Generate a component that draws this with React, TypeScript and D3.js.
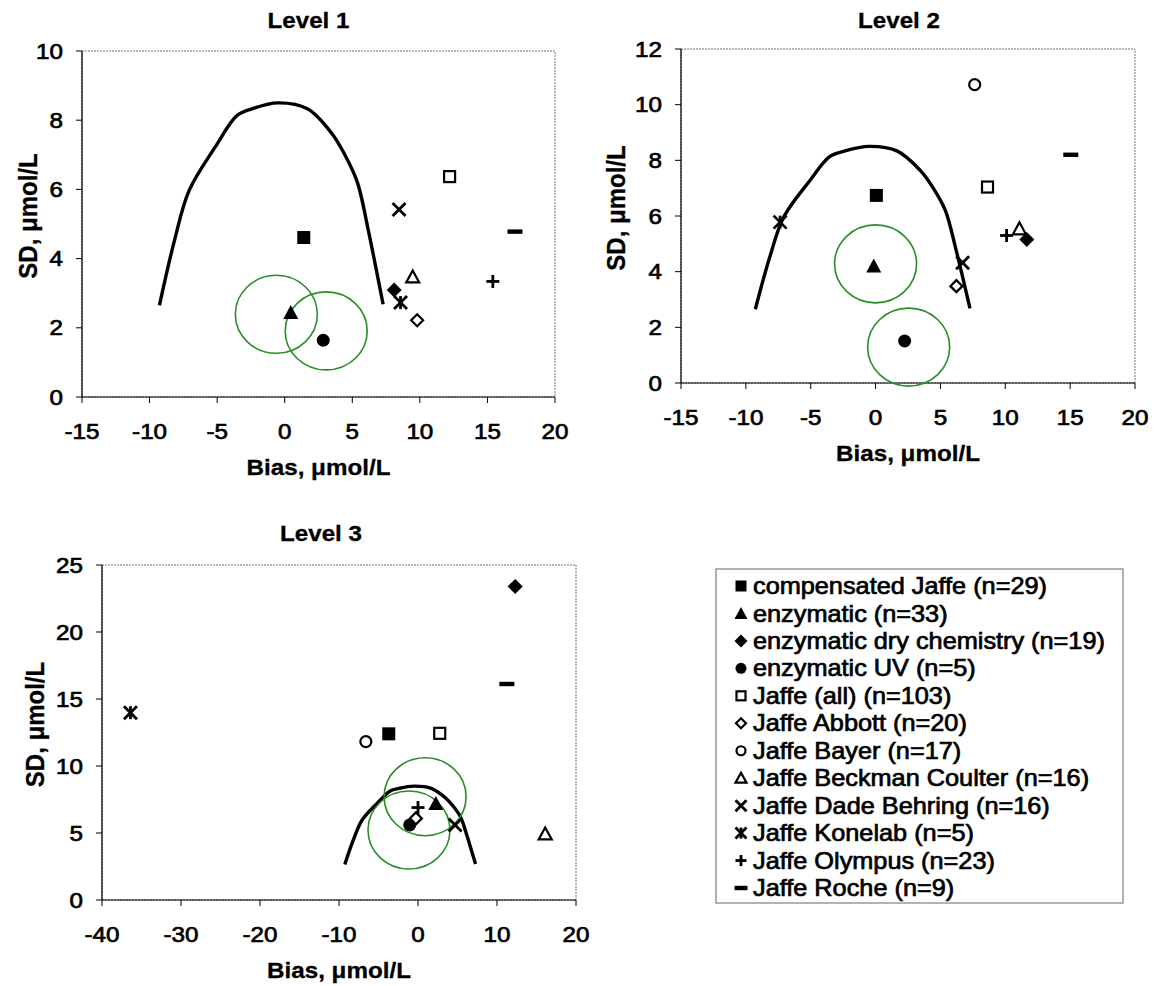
import React from "react";
import * as d3 from "d3";

// ---------- data ----------
const methodLabels = [
  "compensated Jaffe (n=29)",
  "enzymatic (n=33)",
  "enzymatic dry chemistry (n=19)",
  "enzymatic UV (n=5)",
  "Jaffe (all) (n=103)",
  "Jaffe Abbott (n=20)",
  "Jaffe Bayer (n=17)",
  "Jaffe Beckman Coulter (n=16)",
  "Jaffe Dade Behring (n=16)",
  "Jaffe Konelab (n=5)",
  "Jaffe Olympus (n=23)",
  "Jaffe Roche (n=9)",
];
const methodSymbols = [
  "squareFilled", "triangleFilled", "diamondFilled", "circleFilled",
  "squareOpen", "diamondOpen", "circleOpen", "triangleOpen",
  "cross", "asterisk", "plus", "dash",
];

const level1Bias = [1.41, 0.45, 8.1, 2.85, 12.2, 9.8, null, 9.47, 8.46, 8.57, 15.4, 17.04];
const level1SD = [4.61, 2.44, 3.09, 1.64, 6.37, 2.22, null, 3.47, 5.42, 2.73, 3.34, 4.78];

const level2Bias = [0.06, -0.14, 11.66, 2.24, 8.63, 6.23, 7.64, 11.09, 6.71, -7.36, 10.1, 15.05];
const level2SD = [6.74, 4.2, 5.16, 1.51, 7.04, 3.48, 10.72, 5.54, 4.32, 5.78, 5.3, 8.2];

const level3Bias = [-3.7, 2.26, 12.3, -1.05, 2.75, -0.27, -6.6, 16.1, 4.7, -36.4, 0.0, 11.25];
const level3SD = [12.4, 7.2, 23.4, 5.6, 12.44, 6.09, 11.82, 4.93, 5.6, 13.98, 6.9, 16.12];

// acceptance limit curve (bias, SD)
const limitBias = [-9.27, -8.16, -7.07, -5.15, -3.52, -2.42, -0.51, 1.68, 3.46, 4.41, 5.37, 6.19, 6.74, 7.28];
const limitSD = [2.65, 4.52, 5.97, 7.22, 8.14, 8.33, 8.5, 8.33, 7.63, 7.03, 6.21, 4.81, 3.75, 2.68];

// green circle centres (bias, SD)
const level1CircleBias = [-0.62, 3.07];
const level1CircleSD = [2.39, 1.91];
const level2CircleBias = [0.0, 2.55];
const level2CircleSD = [4.28, 1.29];
const level3CircleBias = [0.9, -1.14];
const level3CircleSD = [7.71, 5.22];

const level1XTicks = [-15, -10, -5, 0, 5, 10, 15, 20];
const level1YTicks = [0, 2, 4, 6, 8, 10];
const level2XTicks = [-15, -10, -5, 0, 5, 10, 15, 20];
const level2YTicks = [0, 2, 4, 6, 8, 10, 12];
const level3XTicks = [-40, -30, -20, -10, 0, 10, 20];
const level3YTicks = [0, 5, 10, 15, 20, 25];

// ---------- layout ----------
const SX = 1.1; // horizontal stretch of the scanned text
const FONT = "'Liberation Sans', Arial, sans-serif";
const GREEN = "#2a8c2a";

const panels = [
  {
    title: "Level 1", rect: [82, 51, 555, 397], xDom: [-15, 20], yDom: [0, 10],
    xTicks: level1XTicks, yTicks: level1YTicks, bias: level1Bias, sd: level1SD,
    cBias: level1CircleBias, cSD: level1CircleSD, titleY: 20, ylabX: 28, titleDx: -10,
  },
  {
    title: "Level 2", rect: [681, 49, 1135, 383], xDom: [-15, 20], yDom: [0, 12],
    xTicks: level2XTicks, yTicks: level2YTicks, bias: level2Bias, sd: level2SD,
    cBias: level2CircleBias, cSD: level2CircleSD, titleY: 20, ylabX: 616, titleDx: -9,
  },
  {
    title: "Level 3", rect: [102, 565, 576, 900], xDom: [-40, 20], yDom: [0, 25],
    xTicks: level3XTicks, yTicks: level3YTicks, bias: level3Bias, sd: level3SD,
    cBias: level3CircleBias, cSD: level3CircleSD, titleY: 533, ylabX: 35, titleDx: -18,
  },
];

function T(props: any) {
  const { x, y, size, weight, anchor, rot, children, thick } = props;
  return (
    <text
      transform={`translate(${x},${y}) scale(${SX},1)${rot ? " rotate(-90)" : ""}`}
      fontFamily={FONT}
      fontSize={size}
      fontWeight={weight || "normal"}
      textAnchor={anchor || "middle"}
      dominantBaseline="central"
      fill="#000"
      stroke="#000"
      strokeWidth={thick == null ? 0.7 : thick}
    >
      {children}
    </text>
  );
}

function Marker({ type, x, y, s }: { type: string; x: number; y: number; s: number }) {
  const h = s / 2;
  switch (type) {
    case "squareFilled":
      return <rect x={x - h} y={y - h} width={s} height={s} fill="#000" />;
    case "squareOpen":
      return <rect x={x - h + 1} y={y - h + 1} width={s - 2} height={s - 2} fill="#fff" stroke="#000" strokeWidth={2.2} />;
    case "triangleFilled":
      return <path d={`M${x},${y - h - 1}L${x + h + 1},${y + h}L${x - h - 1},${y + h}Z`} fill="#000" />;
    case "triangleOpen":
      return <path d={`M${x},${y - h}L${x + h},${y + h - 1}L${x - h},${y + h - 1}Z`} fill="#fff" stroke="#000" strokeWidth={2.2} strokeLinejoin="miter" />;
    case "diamondFilled":
      return <path d={`M${x},${y - h - 1}L${x + h + 1},${y}L${x},${y + h + 1}L${x - h - 1},${y}Z`} fill="#000" />;
    case "diamondOpen":
      return <path d={`M${x},${y - h + 0.5}L${x + h - 0.5},${y}L${x},${y + h - 0.5}L${x - h + 0.5},${y}Z`} fill="#fff" stroke="#000" strokeWidth={2.2} />;
    case "circleFilled":
      return <circle cx={x} cy={y} r={h} fill="#000" />;
    case "circleOpen":
      return <circle cx={x} cy={y} r={h - 1} fill="#fff" stroke="#000" strokeWidth={2.2} />;
    case "cross":
      return (
        <g stroke="#000" strokeWidth={2.8}>
          <line x1={x - h} y1={y - h} x2={x + h} y2={y + h} />
          <line x1={x - h} y1={y + h} x2={x + h} y2={y - h} />
        </g>
      );
    case "asterisk":
      return (
        <g stroke="#000" strokeWidth={2.8}>
          <line x1={x - h} y1={y - h} x2={x + h} y2={y + h} />
          <line x1={x - h} y1={y + h} x2={x + h} y2={y - h} />
          <line x1={x} y1={y - h} x2={x} y2={y + h} />
        </g>
      );
    case "plus":
      return (
        <g stroke="#000" strokeWidth={2.8}>
          <line x1={x - h} y1={y} x2={x + h} y2={y} />
          <line x1={x} y1={y - h} x2={x} y2={y + h} />
        </g>
      );
    case "dash":
      return <rect x={x - h - 1} y={y - 2.2} width={s + 2} height={4.4} fill="#000" />;
    default:
      return null;
  }
}

function Panel({ p }: { p: any }) {
  const [x0, y0, x1, y1] = p.rect;
  const xs = d3.scaleLinear().domain(p.xDom).range([x0, x1]);
  const ys = d3.scaleLinear().domain(p.yDom).range([y1, y0]);
  const curvePts: [number, number][] = limitBias.map((b, i) => [b, limitSD[i]]);
  const line = d3
    .line<[number, number]>()
    .x((d) => xs(d[0]))
    .y((d) => ys(d[1]))
    .curve(d3.curveCatmullRom.alpha(0.5));
  const cx = (x0 + x1) / 2;
  const cy = (y0 + y1) / 2;
  return (
    <g>
      {/* plot border */}
      <rect x={x0} y={y0} width={x1 - x0} height={y1 - y0} fill="none" stroke="#777" strokeWidth={1} strokeDasharray="2,1" />
      <line x1={x0} y1={y0} x2={x0} y2={y1} stroke="#000" strokeWidth={1.2} />
      <line x1={x0} y1={y1} x2={x1} y2={y1} stroke="#000" strokeWidth={1.2} />
      {p.yTicks.map((t: number) => (
        <g key={"y" + t}>
          <line x1={x0 - 6} x2={x0} y1={ys(t)} y2={ys(t)} stroke="#000" />
          <T x={x0 - 19} y={ys(t)} size={22} anchor="end">{t}</T>
        </g>
      ))}
      {p.xTicks.map((t: number) => (
        <g key={"x" + t}>
          <line x1={xs(t)} x2={xs(t)} y1={y1} y2={y1 + 6} stroke="#000" />
          <T x={xs(t)} y={y1 + 34} size={22}>{t}</T>
        </g>
      ))}
      {/* limit curve */}
      <path d={line(curvePts) || ""} fill="none" stroke="#000" strokeWidth={3.4} />
      {/* green circles */}
      {p.cBias.map((b: number, i: number) => (
        <ellipse key={"c" + i} cx={xs(b)} cy={ys(p.cSD[i])} rx={41} ry={39} fill="none" stroke={GREEN} strokeWidth={1.6} />
      ))}
      {/* markers */}
      {methodSymbols.map((sym, i) =>
        p.bias[i] == null ? null : (
          <Marker key={"m" + i} type={sym} x={xs(p.bias[i])} y={ys(p.sd[i])} s={13} />
        )
      )}
      <T x={cx + p.titleDx} y={p.titleY} size={22} weight="bold" thick={0.3}>{p.title}</T>
      <T x={p.ylabX} y={cy - 8} size={24} weight="bold" rot thick={0.3}>SD, μmol/L</T>
      <T x={cx} y={y1 + 70} size={22} weight="bold" thick={0.3}>Bias, μmol/L</T>
    </g>
  );
}

function Legend() {
  const bx0 = 716, by0 = 569, bx1 = 1123, by1 = 903;
  const rowY = d3.scaleLinear().domain([0, methodLabels.length - 1]).range([586, 888]);
  return (
    <g>
      <rect x={bx0} y={by0} width={bx1 - bx0} height={by1 - by0} fill="#fff" stroke="#666" strokeWidth={1} />
      {methodLabels.map((lab, i) => (
        <g key={lab}>
          <Marker type={methodSymbols[i]} x={741} y={rowY(i)} s={11} />
          <T x={753} y={rowY(i)} size={23} anchor="start">{lab}</T>
        </g>
      ))}
    </g>
  );
}

export default function App() {
  return (
    <svg
      width={1154}
      height={986}
      style={{ position: "absolute", left: 0, top: 0, background: "#fff" }}
    >
      <rect x={0} y={0} width={1154} height={986} fill="#fff" />
      {panels.map((p) => (
        <Panel key={p.title} p={p} />
      ))}
      <Legend />
    </svg>
  );
}
